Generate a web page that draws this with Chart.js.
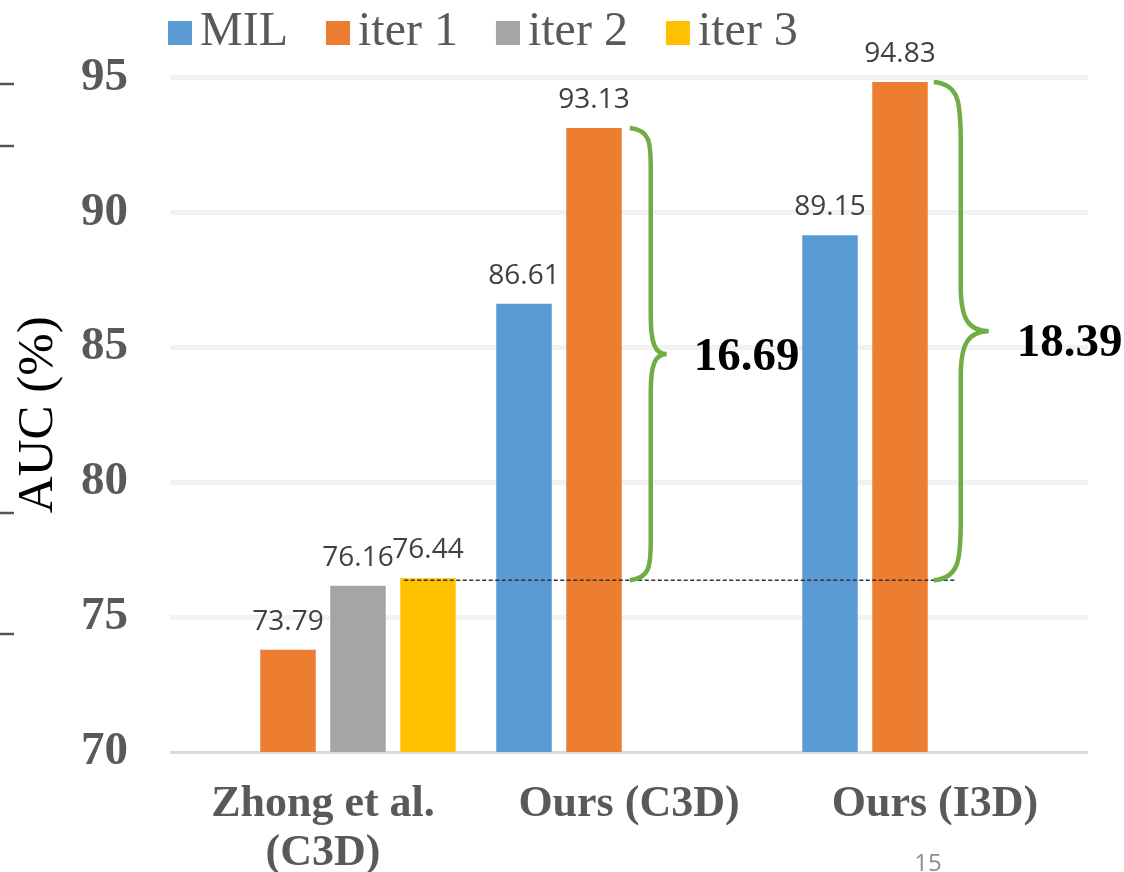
<!DOCTYPE html>
<html>
<head>
<meta charset="utf-8">
<script src="https://cdn.jsdelivr.net/npm/chart.js@4.4.1/dist/chart.umd.min.js"></script>
<style>
  html, body { margin: 0; padding: 0; background: #ffffff; }
  #wrap { width: 1124px; height: 872px; position: relative; overflow: hidden; }
  canvas { display: block; }
</style>
</head>
<body>
<div id="wrap"><canvas id="c" width="1124" height="872"></canvas></div>
<script>
// ---- data ----
const categories = [["Zhong et al.", "(C3D)"], "Ours (C3D)", "Ours (I3D)"];
const seriesNames = ["MIL", "iter 1", "iter 2", "iter 3"];
const milValues = [null, 86.61, 89.15];
const iter1Values = [73.79, 93.13, 94.83];
const iter2Values = [76.16, null, null];
const iter3Values = [76.44, null, null];
const yTickValues = [70, 75, 80, 85, 90, 95];
const gainLabels = ["16.69", "18.39"];
const pageNumber = "15";

const seriesColors = ["#5b9bd5", "#ed7d31", "#a5a5a5", "#ffc000"];
const SERIF = '"Liberation Serif", "Times New Roman", serif';
const SANS = '"Open Sans", "Noto Sans", sans-serif';

const bgPlugin = {
  id: 'bg',
  beforeDraw(chart) {
    const ctx = chart.ctx;
    ctx.save();
    ctx.fillStyle = '#ffffff';
    ctx.fillRect(0, 0, chart.width, chart.height);
    ctx.restore();
  }
};

const valueLabelPlugin = {
  id: 'valueLabels',
  afterDatasetsDraw(chart) {
    const ctx = chart.ctx;
    ctx.save();
    ctx.font = '28px ' + SANS;
    ctx.fillStyle = '#404040';
    ctx.textAlign = 'center';
    ctx.textBaseline = 'alphabetic';
    chart.data.datasets.forEach((ds, di) => {
      const meta = chart.getDatasetMeta(di);
      meta.data.forEach((el, i) => {
        const v = ds.data[i];
        if (v === null || v === undefined) return;
        ctx.fillText(v.toFixed(2), el.x, el.y - 20);
      });
    });
    ctx.restore();
  }
};

function drawBrace(ctx, x0, x1, x2, yTop, yBot, rEnd, rMid) {
  const yMid = (yTop + yBot) / 2;
  ctx.beginPath();
  ctx.moveTo(x0, yTop);
  ctx.bezierCurveTo(x0 + (x1 - x0) * 0.95, yTop + 2, x1, yTop + rEnd * 0.35, x1, yTop + rEnd);
  ctx.lineTo(x1, yMid - rMid);
  ctx.bezierCurveTo(x1, yMid - rMid * 0.3, x1 + (x2 - x1) * 0.25, yMid, x2, yMid);
  ctx.bezierCurveTo(x1 + (x2 - x1) * 0.25, yMid, x1, yMid + rMid * 0.3, x1, yMid + rMid);
  ctx.lineTo(x1, yBot - rEnd);
  ctx.bezierCurveTo(x1, yBot - rEnd * 0.35, x0 + (x1 - x0) * 0.95, yBot - 2, x0, yBot);
  ctx.stroke();
}

const annotationPlugin = {
  id: 'gainAnnotations',
  afterDatasetsDraw(chart) {
    const ctx = chart.ctx;
    const yellow = chart.getDatasetMeta(3).data[0];
    const c3d = chart.getDatasetMeta(1).data[1];
    const i3d = chart.getDatasetMeta(1).data[2];
    const baseY = yellow.y + 2;
    const c3dRight = c3d.x + c3d.width / 2;
    const i3dRight = i3d.x + i3d.width / 2;

    ctx.save();
    // dashed baseline
    ctx.strokeStyle = '#333333';
    ctx.lineWidth = 1.5;
    ctx.setLineDash([4, 2.5]);
    ctx.beginPath();
    ctx.moveTo(yellow.x - yellow.width / 2 + 4, baseY);
    ctx.lineTo(i3dRight + 28, baseY);
    ctx.stroke();
    ctx.setLineDash([]);

    // braces
    ctx.strokeStyle = '#70ad47';
    ctx.lineWidth = 4.5;
    ctx.lineCap = 'butt';
    drawBrace(ctx, c3dRight + 8, c3dRight + 29, c3dRight + 45, c3d.y, baseY, 40, 38);
    drawBrace(ctx, i3dRight + 6, i3dRight + 33, i3dRight + 61, i3d.y, baseY, 60, 45);

    // gain texts
    ctx.fillStyle = '#000000';
    ctx.font = 'bold 47px ' + SERIF;
    ctx.textAlign = 'left';
    ctx.textBaseline = 'alphabetic';
    const mid1 = (c3d.y + baseY) / 2;
    const mid2 = (i3d.y + baseY) / 2;
    ctx.fillText(gainLabels[0], c3dRight + 72, mid1 + 16);
    ctx.fillText(gainLabels[1], i3dRight + 89, mid2 + 25);
    ctx.restore();
  }
};

const legendPlugin = {
  id: 'customLegend',
  afterDraw(chart) {
    const ctx = chart.ctx;
    ctx.save();
    ctx.font = '48px ' + SERIF;
    ctx.textBaseline = 'alphabetic';
    ctx.textAlign = 'left';
    let x = 168;
    const boxTop = 21, box = 24, baseline = 45;
    seriesNames.forEach((name, i) => {
      ctx.fillStyle = seriesColors[i];
      ctx.fillRect(x, boxTop, box, box);
      const tx = x + box + 8;
      ctx.fillStyle = '#595959';
      ctx.fillText(name, tx, baseline);
      x = tx + ctx.measureText(name).width + 38;
    });
    ctx.restore();
  }
};

const decorPlugin = {
  id: 'decor',
  afterDraw(chart) {
    const ctx = chart.ctx;
    ctx.save();
    // page number
    ctx.fillStyle = '#8c8c8c';
    ctx.font = '24px ' + SANS;
    ctx.textAlign = 'center';
    ctx.textBaseline = 'alphabetic';
    ctx.fillText(pageNumber, 928, 871);
    // cropped tick marks at left edge (from neighbouring slide content)
    ctx.strokeStyle = '#555555';
    ctx.lineWidth = 2.5;
    [84, 146, 513, 634].forEach(y => {
      ctx.beginPath();
      ctx.moveTo(0, y);
      ctx.lineTo(14, y);
      ctx.stroke();
    });
    ctx.restore();
  }
};

const datasets = [milValues, iter1Values, iter2Values, iter3Values].map((vals, i) => ({
  label: seriesNames[i],
  data: vals,
  backgroundColor: seriesColors[i],
  borderWidth: 0,
  categoryPercentage: 0.915,
  barPercentage: 0.793
}));

new Chart(document.getElementById('c'), {
  type: 'bar',
  data: { labels: categories, datasets },
  plugins: [bgPlugin, valueLabelPlugin, annotationPlugin, legendPlugin, decorPlugin],
  options: {
    responsive: false,
    animation: false,
    layout: { padding: { top: 77.5, right: 36, left: 0, bottom: 0 } },
    plugins: { legend: { display: false }, tooltip: { enabled: false } },
    scales: {
      x: {
        grid: { display: false, drawTicks: false },
        border: { display: false },
        ticks: {
          color: '#595959',
          font: { family: SERIF, size: 44, weight: 'bold', lineHeight: 1.12 },
          padding: 28,
          maxRotation: 0,
          autoSkip: false
        },
        afterFit(scale) { scale.height = 120; }
      },
      y: {
        min: 70,
        max: 95,
        afterBuildTicks(scale) { scale.ticks = yTickValues.map(v => ({ value: v })); },
        grid: {
          drawTicks: false,
          color: ctx => ctx.tick && ctx.tick.value === 70 ? '#d9d9d9' : '#f2f2f2',
          lineWidth: ctx => ctx.tick && ctx.tick.value === 70 ? 3 : 5
        },
        border: { display: false },
        ticks: {
          color: '#595959',
          font: { family: SERIF, size: 47, weight: 'bold' },
          padding: 42
        },
        title: {
          display: true,
          text: 'AUC (%)',
          color: '#000000',
          font: { family: SERIF, size: 51, lineHeight: 1.2 },
          padding: { top: 8, bottom: 0 }
        },
        afterFit(scale) { scale.width = 170; }
      }
    }
  }
});
</script>
</body>
</html>
